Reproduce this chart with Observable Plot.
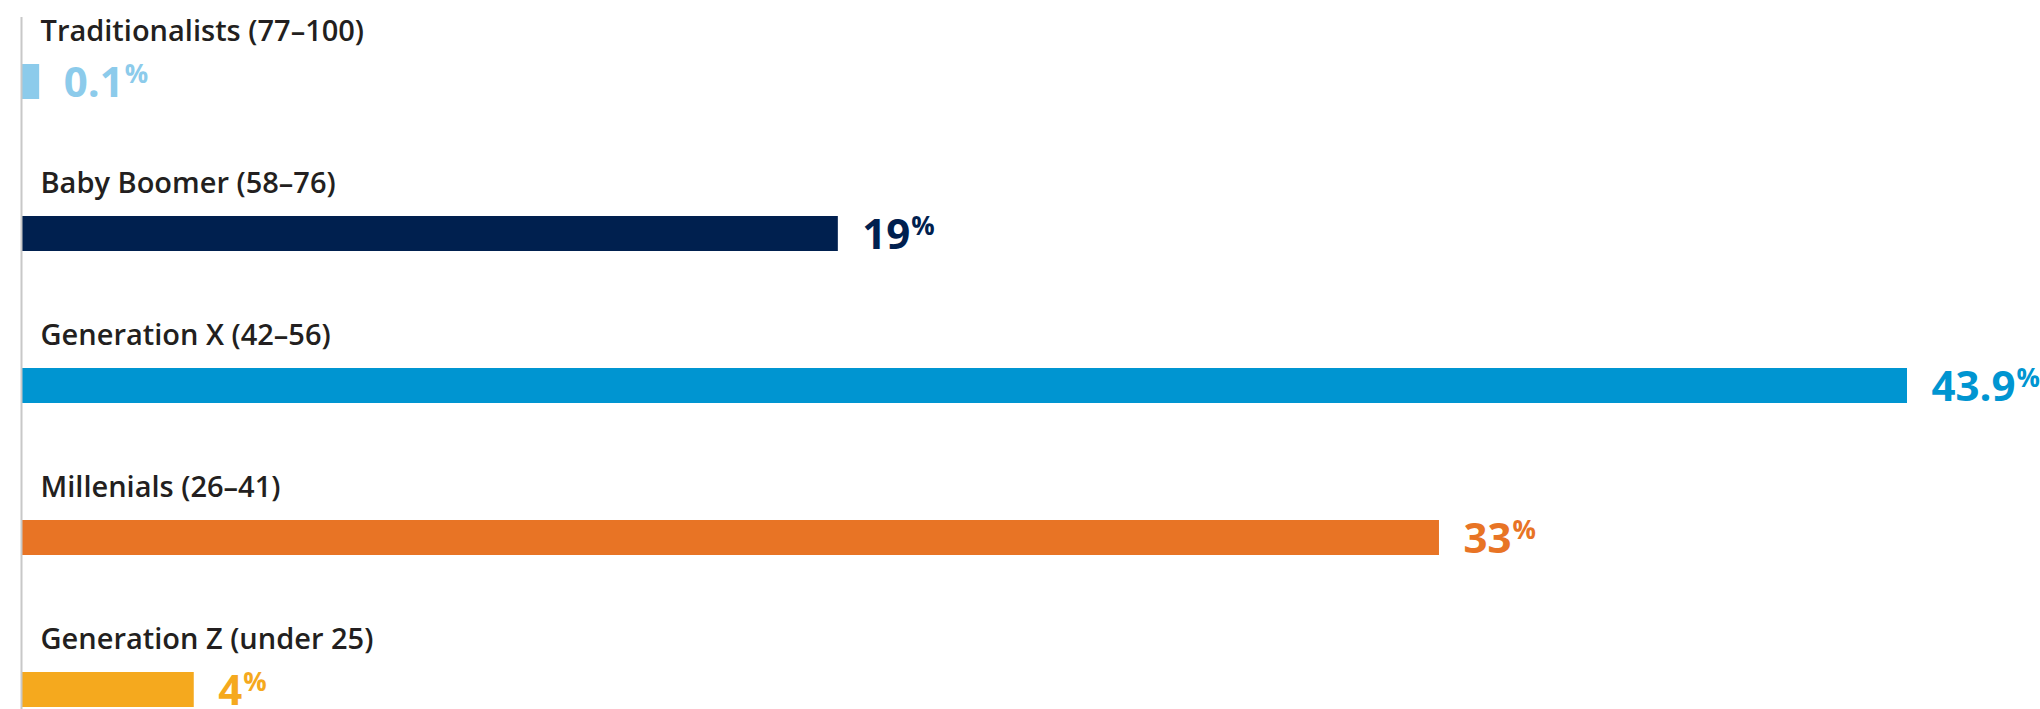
<!DOCTYPE html>
<html>
<head>
<meta charset="utf-8">
<script src="https://cdn.jsdelivr.net/npm/d3@7"></script>
<script src="https://cdn.jsdelivr.net/npm/@observablehq/plot@0.6"></script>
<style>
  html, body { margin: 0; padding: 0; background: #fff; }
  #chart svg { display: block; font-family: "Open Sans", sans-serif; }
</style>
</head>
<body>
<div id="chart"></div>
<script>
// ---- Data ----
const categories = [
  "Traditionalists (77–100)",
  "Baby Boomer (58–76)",
  "Generation X (42–56)",
  "Millenials (26–41)",
  "Generation Z (under 25)"
];
const values = [0.1, 19, 43.9, 33, 4];
const valueLabels = ["0.1", "19", "43.9", "33", "4"];
const colors = ["#8ccbeb", "#00204f", "#0095d1", "#e87425", "#f5a91e"];

// ---- Table built from arrays ----
const data = categories.map((c, i) => ({
  category: c,
  value: values[i],
  label: valueLabels[i],
  color: colors[i]
}));

// Very small shares are drawn with a minimum visible bar length
const minVisible = 0.4;

const chart = Plot.plot({
  width: 2040,
  height: 709,
  marginTop: 17,
  marginBottom: 0,
  marginLeft: 0,
  marginRight: 0,
  style: { background: "#fff", fontFamily: "Open Sans, sans-serif" },
  x: { domain: [0, 43.9], range: [22, 1907], axis: null },
  y: { domain: categories, range: [63, 707], paddingInner: 0.77, paddingOuter: 0, axis: null },
  color: { domain: categories, range: colors },
  marks: [
    Plot.barX(data, {
      x1: 0,
      x2: d => Math.max(d.value, minVisible),
      y: "category",
      fill: "category"
    }),
    Plot.ruleX([0], { stroke: "#c8c8c8", strokeWidth: 2, dx: -1 }),
    Plot.text(data, {
      x: 0,
      y: "category",
      text: "category",
      textAnchor: "start",
      lineAnchor: "bottom",
      dx: 18,
      dy: -41,
      fontSize: 29,
      fontWeight: 600,
      fill: "#231f20"
    }),
    Plot.text(data, {
      x: d => Math.max(d.value, minVisible),
      y: "category",
      text: d => d.label + "%",
      textAnchor: "start",
      lineAnchor: "bottom",
      dx: 24,
      dy: 15,
      fontSize: 42,
      fontWeight: 700,
      fill: "category",
      className: "value-label"
    })
  ]
});

document.getElementById("chart").appendChild(chart);

// Render the percent sign as a superscript
d3.select(chart).selectAll(".value-label text").each(function () {
  const t = d3.select(this);
  const full = t.text();
  const num = full.replace(/%$/, "");
  t.text(null);
  t.append("tspan").text(num);
  t.append("tspan")
    .attr("font-size", 26)
    .attr("dx", 1)
    .attr("dy", -14)
    .text("%");
});
</script>
</body>
</html>
